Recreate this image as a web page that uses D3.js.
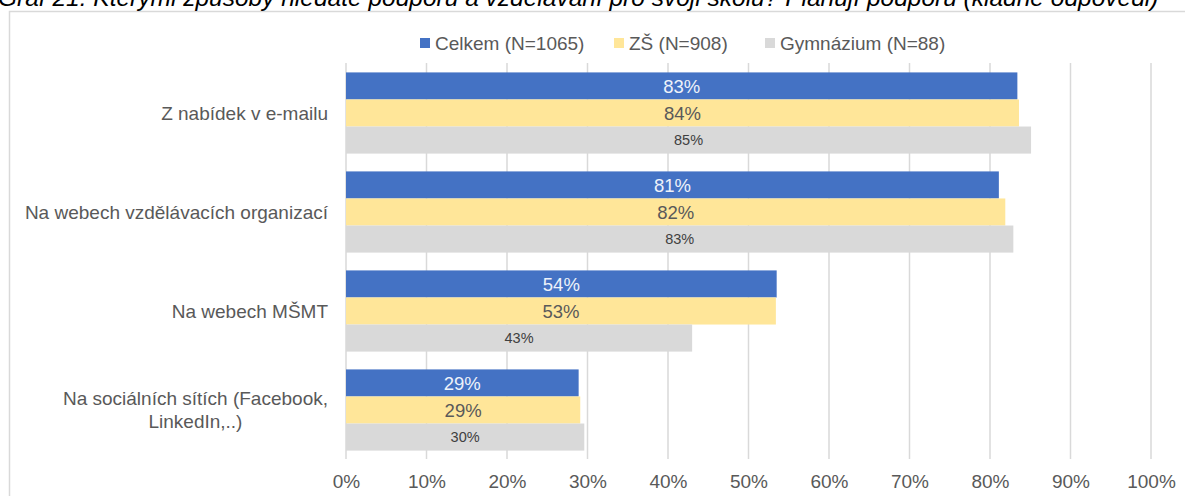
<!DOCTYPE html>
<html>
<head>
<meta charset="utf-8">
<script src="https://cdn.jsdelivr.net/npm/d3@7"></script>
<style>
  body { margin: 0; background: #fff; }
  svg { display: block; font-family: "Liberation Sans", Arial, sans-serif; }
</style>
</head>
<body>
<svg id="chart"></svg>
<script>
// data
var categories = [
  ["Z nabídek v e-mailu"],
  ["Na webech vzdělávacích organizací"],
  ["Na webech MŠMT"],
  ["Na sociálních sítích (Facebook,", "LinkedIn,..)"]
];
var seriesNames = ["Celkem (N=1065)", "ZŠ (N=908)", "Gymnázium (N=88)"];
var celkem = [83.4, 81.1, 53.5, 28.9];
var zs = [83.6, 81.9, 53.4, 29.1];
var gymnazium = [85.1, 82.9, 43.0, 29.6];
var ticks = [0, 10, 20, 30, 40, 50, 60, 70, 80, 90, 100];

var width = 1185, height = 496;
var colors = ["#4472C4", "#FFE699", "#D9D9D9"];
var labelColors = ["#eef2fa", "#595959", "#404040"];
var labelSizes = [18.5, 18.5, 14.5];

var svg = d3.select("#chart").attr("width", width).attr("height", height);

// frame (partly off the page)
svg.append("rect")
  .attr("x", 9.5).attr("y", 11.5)
  .attr("width", 1200).attr("height", 520)
  .attr("fill", "none")
  .attr("stroke", "#d9d9d9")
  .attr("stroke-width", 1.5);

// title, cut off at the top like in the source
svg.append("text")
  .attr("x", -2).attr("y", 6)
  .style("font-style", "italic")
  .style("font-size", "24.5px")
  .style("fill", "#000")
  .text("Graf 21: Kterými způsoby hledáte podporu a vzdělávání pro svoji školu? Plánují podporu (kladné odpovědi)");

var x = d3.scaleLinear().domain([0, 100]).range([346, 1151]);
var y = d3.scaleBand().domain(d3.range(categories.length)).range([63.5, 459.5]).paddingInner(0.18).paddingOuter(0.09);
var ySub = d3.scaleBand().domain([0, 1, 2]).range([0, y.bandwidth()]);

// gridlines
svg.append("g")
  .selectAll("line")
  .data(ticks)
  .enter()
  .append("line")
  .attr("x1", d => x(d)).attr("x2", d => x(d))
  .attr("y1", 63).attr("y2", 459)
  .attr("stroke", "#d9d9d9")
  .attr("stroke-width", 1.5);

// x axis labels
var xAxis = d3.axisBottom(x).tickValues(ticks).tickFormat(d => d + "%").tickSize(0).tickPadding(0);
var axisG = svg.append("g").attr("transform", "translate(0,474)").call(xAxis);
axisG.select(".domain").remove();
axisG.selectAll("text")
  .style("font-family", "\"Liberation Sans\", Arial, sans-serif")
  .style("font-size", "19px")
  .style("fill", "#595959");

var series = [celkem, zs, gymnazium];

var groups = svg.append("g")
  .selectAll("g")
  .data(categories)
  .enter()
  .append("g")
  .attr("transform", (d, i) => "translate(0," + y(i) + ")");

groups.each(function (cat, i) {
  var g = d3.select(this);
  series.forEach(function (vals, s) {
    g.append("rect")
      .attr("x", x(0))
      .attr("y", ySub(s))
      .attr("width", x(vals[i]) - x(0))
      .attr("height", ySub.bandwidth())
      .attr("fill", colors[s]);
    g.append("text")
      .attr("x", (x(0) + x(vals[i])) / 2)
      .attr("y", ySub(s) + ySub.bandwidth() / 2)
      .attr("dy", "0.36em")
      .attr("text-anchor", "middle")
      .style("font-size", labelSizes[s] + "px")
      .style("fill", labelColors[s])
      .text(Math.round(vals[i]) + "%");
  });
});

// category labels: block right-aligned, lines centred inside the block
groups.each(function (lines, i) {
  var g = d3.select(this);
  var t = g.append("text")
    .style("font-size", "19px")
    .style("fill", "#595959");
  var lineH = 23;
  var top = y.bandwidth() / 2 - (lines.length - 1) * lineH / 2;
  lines.forEach(function (line, k) {
    t.append("tspan").attr("x", 0).attr("y", top + k * lineH).attr("dy", "0.36em").text(line);
  });
  var w = d3.max(t.selectAll("tspan").nodes(), n => n.getComputedTextLength());
  t.attr("text-anchor", "middle");
  t.selectAll("tspan").attr("x", 328 - w / 2);
});

// legend
var legendX = [420, 614, 765];
var legend = svg.append("g")
  .selectAll("g")
  .data(seriesNames)
  .enter()
  .append("g")
  .attr("transform", (d, i) => "translate(" + legendX[i] + ",43)");
legend.append("rect")
  .attr("x", 0).attr("y", -5)
  .attr("width", 10).attr("height", 10)
  .attr("fill", (d, i) => colors[i]);
legend.append("text")
  .attr("x", 15).attr("dy", "0.36em")
  .style("font-size", "19px")
  .style("fill", "#595959")
  .text(d => d);
</script>
</body>
</html>
